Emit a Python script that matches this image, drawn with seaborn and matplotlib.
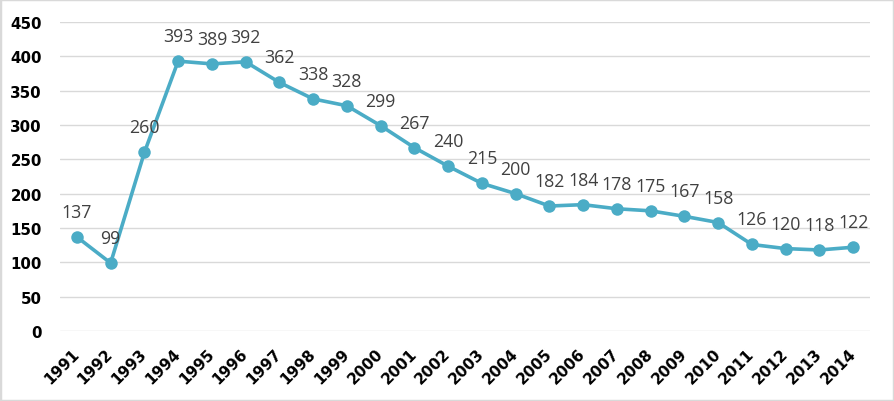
import pandas as pd
import seaborn as sns
from matplotlib import pyplot as plt
from matplotlib.patches import Rectangle

years = [str(y) for y in range(1991, 2015)]
values = [137, 99, 260, 393, 389, 392, 362, 338, 328, 299, 267, 240,
          215, 200, 182, 184, 178, 175, 167, 158, 126, 120, 118, 122]
y_ticks = [0, 50, 100, 150, 200, 250, 300, 350, 400, 450]

line_color = '#4BACC6'


def plot_chart(df: pd.DataFrame):
    sns.set_theme(style="white")
    plt.rcParams['font.family'] = ['DejaVu Sans']

    fig = plt.figure(figsize=(8.94, 4.02), dpi=100)
    ax = fig.add_axes([60 / 894, 70 / 402, 810 / 894, 309 / 402])

    sns.lineplot(x="year", y="value", data=df, ax=ax, color=line_color,
                 marker='o', markersize=9, markeredgewidth=0, linewidth=2.6, sort=False)

    ax.set_xlim(-0.5, len(years) - 0.5)
    ax.set_ylim(0, 450)
    ax.set_yticks(y_ticks)
    ax.yaxis.grid(True, color='#d9d9d9', linewidth=1)
    ax.set_axisbelow(True)
    for s in ax.spines.values():
        s.set_visible(False)
    ax.set(xlabel='', ylabel='')
    ax.tick_params(axis='y', length=0, pad=13, labelsize=10.8, labelcolor='black')
    ax.tick_params(axis='x', length=0, pad=14, labelsize=11, labelcolor='black')
    for lab in ax.get_yticklabels():
        lab.set_fontweight('bold')
    for lab in ax.get_xticklabels():
        lab.set_fontweight('bold')
        lab.set_rotation(45)
        lab.set_ha('right')
        lab.set_va('center')
        lab.set_rotation_mode('anchor')

    for i, v in enumerate(df['value']):
        ax.annotate(str(v), (i, v), xytext=(0, 18), textcoords='offset points',
                    ha='center', va='center', fontsize=12.8, color='#404040',
                    family='Open Sans')

    fig.patches.append(Rectangle((0, 0), 1, 1, transform=fig.transFigure, fill=False,
                                 edgecolor='#d9d9d9', linewidth=2.5))
    fig.savefig('out.png', dpi=100)


if __name__ == "__main__":
    df = pd.DataFrame({'year': years, 'value': values})
    plot_chart(df)
